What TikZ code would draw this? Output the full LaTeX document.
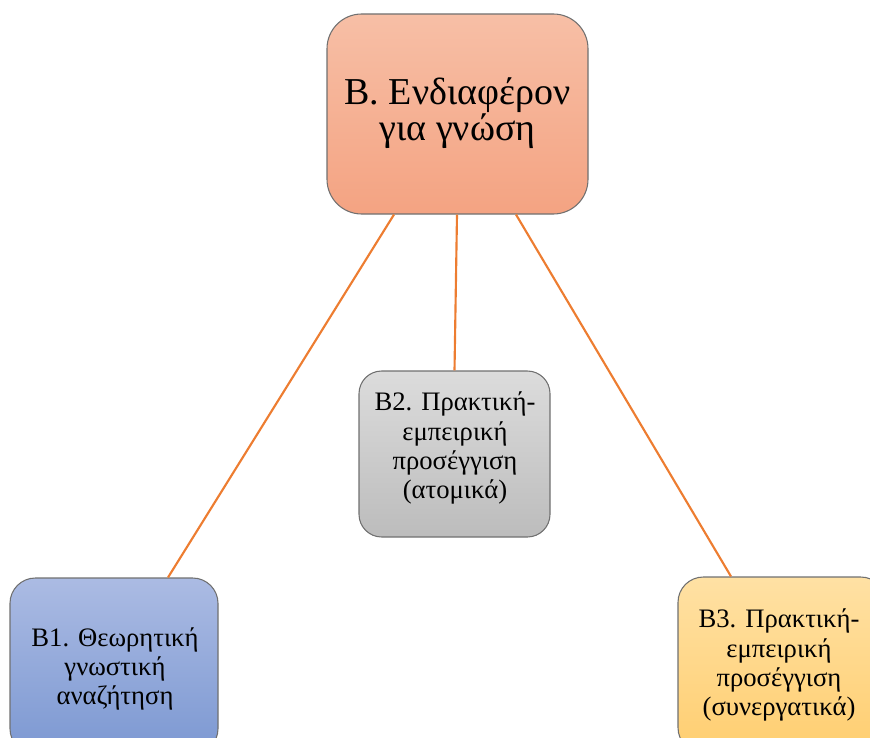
\documentclass[tikz,border=0pt]{standalone}
\usepackage{fontspec}
\setmainfont{Liberation Serif}
\usetikzlibrary{calc,shadings}

\definecolor{linkorange}{HTML}{ED7D31}
\definecolor{edgegray}{HTML}{707070}

\tikzset{
  card/.style={draw=edgegray, line width=0.8pt, rounded corners=#1, inner sep=0pt},
  card/.default=18pt,
  label/.style={inner sep=0pt, align=center, text=black},
  small/.style={font=\fontsize{20}{21.8}\selectfont},
  link/.style={draw=linkorange, line width=1.6pt},
}

\begin{document}
\begin{tikzpicture}[x=0.75pt, y=-0.75pt]
  \useasboundingbox (0,0) rectangle (870,738);
  \clip (0,0) rectangle (870,738);

  % boxes
  \node[card=26pt, top color={rgb,255:red,247;green,191;blue,166}, bottom color={rgb,255:red,244;green,163;blue,130},
        minimum width=195.75pt, minimum height=150pt] (top) at (457.5,114) {};
  \node[card=17pt, top color={rgb,255:red,220;green,220;blue,220}, bottom color={rgb,255:red,188;green,188;blue,188},
        minimum width=143.25pt, minimum height=124.5pt] (b2) at (454.5,454) {};
  \node[card=19pt, top color={rgb,255:red,171;green,187;blue,227}, bottom color={rgb,255:red,124;green,152;blue,210},
        minimum width=156pt, minimum height=132pt] (b1) at (114,666) {};
  \node[card=19pt, top color={rgb,255:red,255;green,225;blue,164}, bottom color={rgb,255:red,255;green,206;blue,112},
        minimum width=156pt, minimum height=132pt] (b3) at (782,665) {};

  % texts
  \node[label, font=\fontsize{28.5}{24}\selectfont] (ttop) at (457.5,113) {B. Ενδιαφέρον\\για γνώση};
  \node[label, small] (tb2) at (455,448) {B2. Πρακτική-\\εμπειρική\\προσέγγιση\\(ατομικά)};
  \node[label, small] (tb1) at (115,669) {B1. Θεωρητική\\γνωστική\\αναζήτηση};
  \node[label, small] (tb3) at (779,665) {B3. Πρακτική-\\εμπειρική\\προσέγγιση\\(συνεργατικά)};

  % connectors
  \coordinate (s1) at ($(top.south)+(-63.5,0)$);
  \coordinate (s2) at ($(top.south)+(-0.5,0)$);
  \coordinate (s3) at ($(top.south)+(58.5,0)$);
  \draw[link] (s1) -- ($(b1.north)+(54,0)$);
  \draw[link] (s2) -- (b2.north);
  \draw[link] (s3) -- ($(b3.north)+(-51,0)$);
\end{tikzpicture}
\end{document}
